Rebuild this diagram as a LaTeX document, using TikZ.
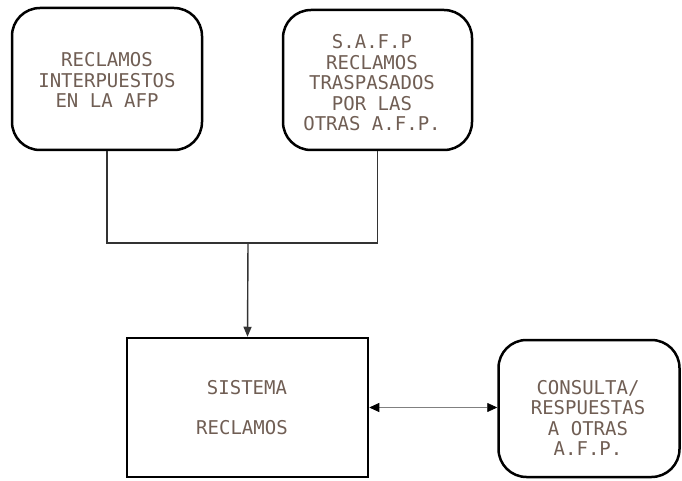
\documentclass[tikz,border=0pt]{standalone}
\usepackage{fontspec}
\setmonofont{DejaVu Sans Mono}
\usetikzlibrary{arrows.meta}
\definecolor{txt}{RGB}{112,94,84}
\begin{document}
\begin{tikzpicture}[x=1pt,y=-1pt,
 rbox/.style={draw=black,line width=2.5pt,rounded corners=28pt,inner sep=0pt},
 sbox/.style={draw=black,line width=2.5pt,inner sep=0pt},
 lbl/.style={text=txt,font=\ttfamily\fontsize{19}{20.5}\selectfont,align=center,inner sep=0pt},
 conn/.style={draw=black!80,line width=1.4pt},
 tip/.style={-{Triangle[length=10pt,width=8pt]}}]
\useasboundingbox (0,0) rectangle (682,481);
\node[rbox, minimum width=190pt, minimum height=142pt] (a) at (107,79) {};
\node[rbox, minimum width=189pt, minimum height=140pt] (b) at (377.5,80) {};
\node[sbox, minimum width=241pt, minimum height=139pt] (c) at (247.5,407.5) {};
\node[rbox, minimum width=181pt, minimum height=137pt] (d) at (589,408.5) {};
\node[lbl] (ta) at (107,80) {RECLAMOS\\INTERPUESTOS\\EN LA AFP};
\node[lbl] (tb) at (372,83) {S.A.F.P\\RECLAMOS\\TRASPASADOS\\POR LAS\\OTRAS A.F.P.};
\node[lbl] (tc1) at (247,388) {SISTEMA};
\node[lbl] (tc2) at (242,428) {RECLAMOS};
\node[lbl] (td) at (588,418) {CONSULTA/\\RESPUESTAS\\A  OTRAS\\A.F.P.};
\coordinate (j) at (248,243);
\draw[conn] (a.south) |- (j);
\draw[conn] (b.south) |- (j);
\draw[conn,tip] (j) -- (c.north);
\draw[draw=black!50,line width=0.8pt,{Triangle[length=10pt,width=9pt,color=black]}-{Triangle[length=10pt,width=9pt,color=black]}] (c.east) -- (d.west |- c.east);
\end{tikzpicture}
\end{document}
